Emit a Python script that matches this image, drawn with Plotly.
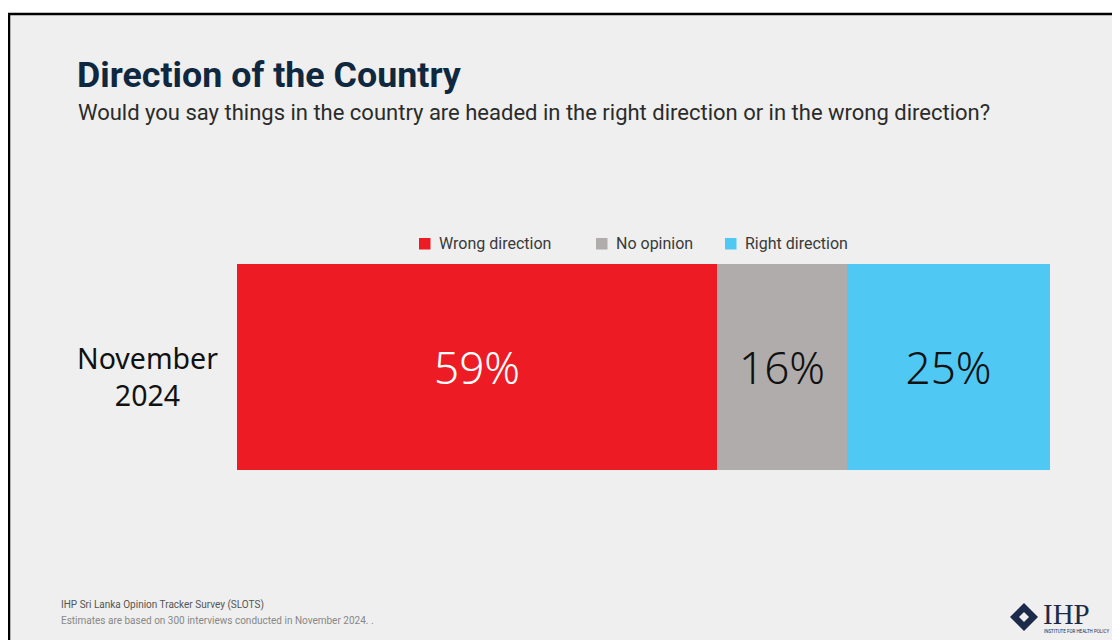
import plotly.graph_objects as go

# ---- data ----
categories = ["November<br>2024"]
series_names = ["Wrong direction", "No opinion", "Right direction"]
series_values = [[59], [16], [25]]
series_colors = ["#ED1C24", "#B0ACAB", "#4FC9F3"]
label_colors = ["#FFFFFF", "#111111", "#111111"]

title_text = "Direction of the Country"
subtitle_text = "Would you say things in the country are headed in the right direction or in the wrong direction?"
footer_line1 = "IHP Sri Lanka Opinion Tracker Survey (SLOTS)"
footer_line2 = "Estimates are based on 300 interviews conducted in November 2024. ."

# ---- geometry (pixels, in screen coordinates; page body adds an 8px offset) ----
OFF = 8
W, H = 1120, 640 - OFF
L, R, T, B = 237 - OFF, 70 + OFF, 264 - OFF, 170
PW, PH = W - L - R, H - T - B
BG = "#EEEFEE"


def xp(px):
    return (px - OFF - L) / PW


def yp(py):
    return (H - B - (py - OFF)) / PH


fig = go.Figure()
for name, vals, col, lcol in zip(series_names, series_values, series_colors, label_colors):
    fig.add_trace(go.Bar(
        y=categories, x=vals, name=name, orientation="h",
        marker=dict(color=col, line=dict(width=0)),
        texttemplate="%{x}%", textposition="inside", insidetextanchor="middle",
        textfont=dict(family="Noto Sans", size=44, color=lcol, weight=300),
        width=1, showlegend=False, hoverinfo="x+name",
    ))

shapes = [
    # white strip and black frame lines
    dict(type="rect", xref="paper", yref="paper", x0=xp(OFF), x1=xp(W + OFF), y0=yp(13), y1=yp(OFF),
         fillcolor="white", line=dict(width=0), layer="above"),
    dict(type="line", xref="paper", yref="paper", x0=xp(OFF), x1=xp(W + OFF), y0=yp(14), y1=yp(14),
         line=dict(color="black", width=2.5), layer="above"),
    dict(type="line", xref="paper", yref="paper", x0=xp(9), x1=xp(9), y0=yp(H + OFF), y1=yp(13),
         line=dict(color="black", width=2.5), layer="above"),
]

annotations = [
    dict(text="<b>" + title_text + "</b>", xref="paper", yref="paper", x=xp(75), y=yp(75),
         xanchor="left", yanchor="middle", showarrow=False,
         font=dict(family="Roboto", size=35.8, color="#10283F")),
    dict(text=subtitle_text, xref="paper", yref="paper", x=xp(76), y=yp(112),
         xanchor="left", yanchor="middle", showarrow=False,
         font=dict(family="Roboto", size=22, color="#2B2B2B")),
    dict(text=categories[0], xref="paper", yref="y", x=xp(147), y=categories[0], yshift=-9,
         xanchor="center", yanchor="middle", align="center", showarrow=False,
         font=dict(family="Noto Sans", size=28.5, color="#111111")),
    dict(text=footer_line1, xref="paper", yref="paper", x=xp(59), y=yp(605),
         xanchor="left", yanchor="middle", showarrow=False,
         font=dict(family="Roboto", size=10, color="#555555")),
    dict(text=footer_line2, xref="paper", yref="paper", x=xp(59), y=yp(620),
         xanchor="left", yanchor="middle", showarrow=False,
         font=dict(family="Roboto", size=10, color="#888888")),
    # logo text
    dict(text="IHP", xref="paper", yref="paper", x=xp(1041), y=yp(614),
         xanchor="left", yanchor="middle", showarrow=False,
         font=dict(family="Liberation Serif", size=29, color="#1C2B4A")),
    dict(text="INSTITUTE FOR HEALTH POLICY", xref="paper", yref="paper", x=xp(1042), y=yp(631),
         xanchor="left", yanchor="middle", showarrow=False,
         font=dict(family="Roboto", size=4.5, color="#1C2B4A")),
]

# logo mark: rotated square with hollow centre
cx, cy, s = 1024, 617, 14
shapes.append(dict(type="path", xref="paper", yref="paper",
                   path=f"M {xp(cx)},{yp(cy - s)} L {xp(cx + s)},{yp(cy)} L {xp(cx)},{yp(cy + s)} L {xp(cx - s)},{yp(cy)} Z",
                   fillcolor="#1C2B4A", line=dict(width=0)))
shapes.append(dict(type="path", xref="paper", yref="paper",
                   path=f"M {xp(cx)},{yp(cy - 5)} L {xp(cx + 5)},{yp(cy)} L {xp(cx)},{yp(cy + 5)} L {xp(cx - 5)},{yp(cy)} Z",
                   fillcolor=BG, line=dict(width=0)))

# custom legend
legend_sq_x = [419, 596, 725]
for name, col, sx in zip(series_names, series_colors, legend_sq_x):
    shapes.append(dict(type="rect", xref="paper", yref="paper",
                       x0=xp(sx), x1=xp(sx + 11.5), y0=yp(249.5), y1=yp(238),
                       fillcolor=col, line=dict(width=0)))
    annotations.append(dict(text=name, xref="paper", yref="paper", x=xp(sx + 18), y=yp(243.5),
                            xanchor="left", yanchor="middle", showarrow=False,
                            font=dict(family="Roboto", size=16, color="#3A3A3A")))

fig.update_layout(
    width=W, height=H, barmode="stack",
    margin=dict(l=L, r=R, t=T, b=B, pad=0),
    paper_bgcolor=BG, plot_bgcolor=BG,
    xaxis=dict(range=[0, 100], visible=False, fixedrange=True),
    yaxis=dict(range=[-0.5, 0.5], visible=False, fixedrange=True),
    shapes=shapes, annotations=annotations,
    bargap=0,
)

fig.write_html("out.html")
